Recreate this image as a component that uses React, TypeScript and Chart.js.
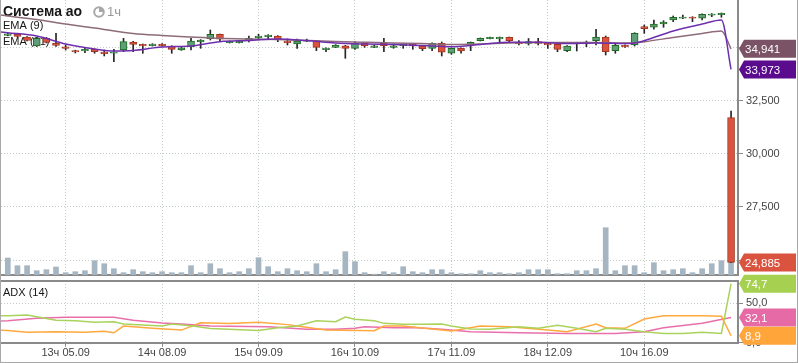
import React, { useEffect, useRef } from 'react';
import { Chart, registerables } from 'chart.js';

Chart.register(...registerables);

// ---------- data ----------
const TITLE = 'Система ао';
const TIMEFRAME = '1ч';
const DAYS = ['04.09', '05.09', '08.09', '09.09', '10.09', '11.09', '12.09', '15.09', '16.09', '17.09'];
const HOURS = [10, 11, 12, 13, 14, 15, 16, 17, 18];
const CATEGORIES = DAYS.flatMap((d) => HOURS.map((h) => `${h}ч ${d}`)).slice(6, 82);
const TICK_INDEX = [6, 16, 26, 36, 46, 56, 66];
const PRICE_TICKS = [25000, 27500, 30000, 32500, 35000];
const ADX_TICKS = [0, 50];

const OPEN = [
  35570, 35640, 35499, 35075, 35438, 35202, 35042, 34863, 34840, 34920,
  34793, 34732, 34887, 35264, 35155, 35089, 35169, 35075, 34887, 35042,
  35264, 35419, 35626, 35231, 35231, 35325, 35466, 35513, 35546, 35311,
  35169, 35297, 35325, 34901, 35014, 35089, 34967, 35231, 35014, 35202,
  35014, 35089, 35169, 35075, 34967, 35202, 34732, 34967, 35155, 35325,
  35419, 35405, 35485, 35264, 35202, 35278, 35202, 35155, 34854, 35169,
  35169, 35325, 35499, 34854, 35108, 35122, 35984, 35956, 36111, 36299,
  36380, 36441, 36380, 36521, 36549, 31700,
];
const HIGH = [
  35670, 35660, 35520, 35460, 35455, 35673, 35122, 34880, 34995, 34935,
  34887, 34920, 35438, 35290, 35170, 35185, 35185, 35090, 35010, 35438,
  35375, 35829, 35640, 35310, 35310, 35546, 35626, 35610, 35565, 35405,
  35405, 35400, 35340, 34995, 35140, 35105, 35278, 35250, 35105, 35438,
  35169, 35185, 35185, 35090, 35220, 35264, 34985, 34985, 35265, 35455,
  35500, 35500, 35500, 35325, 35428, 35438, 35220, 35250, 35090, 35250,
  35311, 35862, 35546, 35202, 35125, 35700, 36064, 36299, 36266, 36488,
  36535, 36455, 36585, 36600, 36630, 32015,
];
const LOW = [
  35555, 35505, 35310, 35050, 35220, 35052, 34887, 34746, 34760, 34732,
  34605, 34336, 34807, 34807, 34732, 35070, 35060, 34732, 34870, 34887,
  34967, 35358, 35278, 35215, 35215, 35264, 35358, 35391, 35278, 35122,
  34967, 35280, 34854, 34807, 35000, 34496, 34920, 35014, 35000, 34807,
  34967, 34967, 34920, 34854, 34854, 34605, 34685, 34732, 34854, 35310,
  35405, 35264, 35264, 35122, 35122, 35122, 34967, 34807, 34807, 34840,
  35042, 35122, 34652, 34732, 35010, 35075, 35673, 35862, 35956, 36220,
  36365, 36219, 36299, 36455, 36427, 24880,
];
const CLOSE = [
  35650, 35523, 35334, 35438, 35240, 35099, 34958, 34793, 34920, 34807,
  34713, 34793, 35278, 35146, 35075, 35169, 35075, 34920, 34995, 35311,
  35358, 35626, 35391, 35297, 35297, 35438, 35546, 35593, 35358, 35231,
  35311, 35358, 35014, 34981, 35122, 34967, 35202, 35075, 35089, 35075,
  35089, 35169, 35075, 34948, 35202, 34779, 34967, 34840, 35250, 35438,
  35485, 35485, 35325, 35184, 35278, 35202, 35122, 34920, 35075, 35231,
  35264, 35499, 34807, 35108, 35028, 35673, 35890, 36111, 36205, 36427,
  36441, 36380, 36568, 36582, 36615, 24885,
];
const VOLUME = [
  170, 93, 93, 43, 53, 80, 23, 33, 43, 143,
  113, 63, 23, 53, 33, 23, 33, 23, 23, 93,
  23, 113, 63, 23, 33, 63, 173, 83, 33, 63,
  43, 33, 113, 33, 53, 233, 133, 23, 8, 33,
  23, 83, 33, 23, 53, 53, 23, 13, 13, 43,
  23, 23, 13, 23, 53, 53, 53, 13, 13, 43,
  43, 63, 473, 43, 93, 93, 23, 123, 43, 53,
  63, 23, 63, 113, 143, 140,
];

// [candle index, value] — lines begin at the left edge of the plot (index -0.7)
const EMA9: [number, number][] = [
  [-0.7, 35734], [0, 35701], [3, 35546], [6, 35169], [9, 34934], [11, 34840], [13, 34863], [16, 35028],
  [19, 35075], [22, 35278], [25, 35334], [28, 35405], [31, 35334], [34, 35217], [37, 35169],
  [40, 35146], [43, 35099], [46, 35042], [49, 35146], [52, 35250], [55, 35250], [58, 35193],
  [61, 35217], [64, 35193], [65, 35217], [66, 35325], [69, 35782], [72, 36111], [74, 36299],
  [75, 33973],
];
const EMA21: [number, number][] = [
  [-0.7, 36535], [0, 36488], [3, 36323], [6, 36111], [9, 35923], [13, 35664], [16, 35570], [19, 35499],
  [22, 35438], [25, 35405], [28, 35381], [31, 35334], [34, 35287], [37, 35250], [40, 35217],
  [43, 35193], [46, 35146], [49, 35169], [52, 35217], [55, 35240], [58, 35240], [61, 35240],
  [64, 35217], [65, 35231], [66, 35278], [69, 35475], [72, 35664], [74, 35782], [75, 34941],
];
const ADX: [number, number][] = [
  [-0.7, 27.6], [0, 27.9], [3, 31], [6, 32.2], [11, 32.2], [13, 28.5], [16, 25], [18, 23.7], [21, 21.2],
  [27, 20.3], [31, 17], [34, 17], [36, 18.5], [37, 20.3], [40, 19], [42, 19.5], [45, 17],
  [48, 14], [53, 12.7], [58, 11.9], [63, 11.9], [66, 14], [68, 19], [72, 24.6], [75, 32.1],
];
const MINUS_DI: [number, number][] = [
  [-0.7, 34.3], [0, 34.3], [2, 35.2], [5, 28.5], [7, 28], [9, 25.9], [11, 26.7], [12, 23.7], [16, 21.2],
  [17, 23.7], [19, 21.5], [21, 18], [26, 15.7], [28, 19], [30, 21.2], [32, 27.9], [34, 26.7],
  [35, 32.6], [36, 29.7], [38, 27.9], [39, 24.6], [41, 23.4], [43, 23.4], [45, 23.7], [46, 21.2],
  [48, 17.4], [50, 17], [53, 20.3], [55, 18.3], [57, 22.1], [59, 18.3], [61, 14], [62, 18.3],
  [64, 17], [66, 14], [68, 11.9], [70, 11.9], [72, 13.2], [74, 11.9], [75, 74.7],
];
const PLUS_DI: [number, number][] = [
  [-0.7, 15.9], [0, 15.7], [2, 13.2], [5, 14], [8, 13.2], [10, 14.5], [11, 12.7], [12, 21.2], [15, 18.5],
  [18, 16.1], [20, 25.4], [23, 24.5], [26, 25.9], [29, 23], [30, 21.2], [33, 16.1], [38, 15.2],
  [39, 21.2], [41, 21.2], [44, 17.4], [46, 14.8], [49, 21.2], [52, 20.3], [56, 16.1], [58, 14],
  [61, 23.7], [62, 19], [64, 18.3], [66, 30.1], [68, 34.3], [72, 34.3], [74, 33.5], [75, 8.9],
];

// ---------- styles ----------
const FONT = '"Liberation Sans", Arial, Helvetica, sans-serif';
const GRID = '#c3ccc3';
const AXIS = '#8a8a8a';
const TEXT = '#444444';
const UP_FILL = '#5e9e79';
const UP_LINE = '#1d6b1d';
const DOWN_FILL = '#d9533f';
const DOWN_LINE = '#a3361e';
const WICK = '#262626';
const VOL_C = '#a5b5c2';
const EMA9_C = '#6e2fae';
const EMA21_C = '#8d6b7a';
const ADX_C = '#e96fab';
const PDI_C = '#ffa93f';
const MDI_C = '#a9d35b';

const X_MIN = -0.705;
const X_MAX = 75.72;
const PRICE_MIN = 24294;
const PRICE_MAX = 37241;
const VOL_MAX = 2750;
const ADX_MAX = 78.2;

const pts = (arr: [number, number][]) => arr.map(([x, y]) => ({ x, y }));
const fmtPrice = (v: number) => Number(v).toLocaleString('en-US');
const fmtAdx = (v: number) => Number(v).toFixed(1).replace('.', ',');

function drawTag(ctx: CanvasRenderingContext2D, y: number, text: string, bg: string) {
  const left = 739;
  const tip = 5;
  const right = 796;
  const h = 18;
  ctx.save();
  ctx.fillStyle = bg;
  ctx.beginPath();
  ctx.moveTo(left, y);
  ctx.lineTo(left + tip, y - h / 2);
  ctx.lineTo(right, y - h / 2);
  ctx.lineTo(right, y + h / 2);
  ctx.lineTo(left + tip, y + h / 2);
  ctx.closePath();
  ctx.fill();
  ctx.fillStyle = '#ffffff';
  ctx.font = `11.5px ${FONT}`;
  ctx.textBaseline = 'middle';
  ctx.textAlign = 'left';
  ctx.fillText(text, left + 6, y + 1);
  ctx.restore();
}

const xScale = (labels: boolean) => ({
  type: 'linear',
  position: 'bottom',
  min: X_MIN,
  max: X_MAX,
  bounds: 'data',
  offset: false,
  afterBuildTicks: (s: any) => {
    s.ticks = TICK_INDEX.map((v) => ({ value: v }));
  },
  afterFit: (s: any) => {
    s.paddingLeft = 0;
    s.paddingRight = 0;
  },
  grid: {
    display: true,
    offset: false,
    color: GRID,
    lineWidth: 1,
    drawTicks: labels,
    tickLength: 4,
    tickColor: AXIS,
    tickWidth: 1,
  },
  border: { display: true, color: AXIS, width: 2, dash: [1, 2] },
  ticks: {
    display: labels,
    autoSkip: false,
    maxRotation: 0,
    minRotation: 0,
    padding: 0,
    color: TEXT,
    font: { family: FONT, size: 11 },
    callback: (v: any) => CATEGORIES[v] ?? '',
  },
});

const yRight = (min: number, max: number, ticks: number[], fmt: (v: number) => string) => ({
  type: 'linear',
  position: 'right',
  min,
  max,
  afterBuildTicks: (s: any) => {
    s.ticks = ticks.map((v) => ({ value: v }));
  },
  afterFit: (s: any) => {
    s.width = 60;
    s.paddingTop = 0;
    s.paddingBottom = 0;
  },
  grid: { color: GRID, lineWidth: 1, drawTicks: true, tickLength: 5, tickColor: AXIS, tickWidth: 1 },
  border: { display: true, color: AXIS, width: 2, dash: [1, 2] },
  ticks: { padding: 3, color: TEXT, font: { family: FONT, size: 11 }, callback: (v: any) => fmt(v) },
});

export default function App() {
  const mainRef = useRef<HTMLCanvasElement>(null);
  const adxRef = useRef<HTMLCanvasElement>(null);

  useEffect(() => {
    document.body.style.margin = '0';
    const idx = OPEN.map((_, i) => i);
    const up = idx.map((i) => CLOSE[i] >= OPEN[i]);

    const mainDeco = {
      id: 'mainDeco',
      beforeDatasetsDraw(chart: any) {
        const ctx = chart.ctx as CanvasRenderingContext2D;
        ctx.save();
        ctx.textAlign = 'left';
        ctx.textBaseline = 'alphabetic';
        ctx.fillStyle = '#161616';
        ctx.font = `bold 14px ${FONT}`;
        ctx.fillText(TITLE, 3, 16);
        // clock icon
        ctx.strokeStyle = '#a8a8a8';
        ctx.lineWidth = 2;
        ctx.beginPath();
        ctx.arc(99, 12, 4.8, 0, Math.PI * 2);
        ctx.stroke();
        ctx.fillStyle = '#a8a8a8';
        ctx.beginPath();
        ctx.moveTo(99, 12);
        ctx.arc(99, 12, 4.8, -Math.PI / 2, 0);
        ctx.closePath();
        ctx.fill();
        ctx.fillStyle = '#9a9a9a';
        ctx.font = `13px ${FONT}`;
        ctx.fillText(TIMEFRAME, 107, 16);
        ctx.fillStyle = '#161616';
        ctx.font = `11px ${FONT}`;
        ctx.fillText('EMA (9)', 3, 29);
        ctx.fillText('EMA (21)', 3, 45);
        ctx.restore();
      },
      afterDraw(chart: any) {
        const ctx = chart.ctx as CanvasRenderingContext2D;
        const y = chart.scales.y;
        const e21 = EMA21[EMA21.length - 1][1];
        const e9 = EMA9[EMA9.length - 1][1];
        const c = CLOSE[CLOSE.length - 1];
        drawTag(ctx, y.getPixelForValue(e21), fmtPrice(e21), '#7b5366');
        drawTag(ctx, y.getPixelForValue(e9), fmtPrice(e9), '#5a0b8e');
        drawTag(ctx, y.getPixelForValue(c), fmtPrice(c), '#d9533f');
      },
    };

    const main = new Chart(mainRef.current as HTMLCanvasElement, {
      type: 'bar',
      data: {
        datasets: [
          {
            type: 'line',
            label: 'EMA (9)',
            data: pts(EMA9),
            yAxisID: 'y',
            borderColor: EMA9_C,
            borderWidth: 1.5,
            pointRadius: 0,
            cubicInterpolationMode: 'monotone',
            order: 0,
          },
          {
            type: 'line',
            label: 'EMA (21)',
            data: pts(EMA21),
            yAxisID: 'y',
            borderColor: EMA21_C,
            borderWidth: 1.5,
            pointRadius: 0,
            cubicInterpolationMode: 'monotone',
            order: 0,
          },
          {
            type: 'bar',
            label: 'body',
            data: idx.map((i) => ({ x: i, y: [OPEN[i], CLOSE[i]] })),
            yAxisID: 'y',
            backgroundColor: up.map((u) => (u ? UP_FILL : DOWN_FILL)),
            borderColor: up.map((u) => (u ? UP_LINE : DOWN_LINE)),
            borderWidth: 1,
            borderSkipped: false,
            barThickness: 7,
            grouped: false,
            order: 1,
          },
          {
            type: 'bar',
            label: 'wick',
            data: idx.map((i) => ({ x: i, y: [LOW[i], HIGH[i]] })),
            yAxisID: 'y',
            backgroundColor: WICK,
            borderWidth: 0,
            barThickness: 1,
            grouped: false,
            order: 2,
          },
          {
            type: 'bar',
            label: 'volume',
            data: idx.map((i) => ({ x: i, y: VOLUME[i] })),
            yAxisID: 'yv',
            backgroundColor: VOL_C,
            borderWidth: 0,
            barThickness: 5,
            grouped: false,
            order: 3,
          },
        ],
      } as any,
      options: {
        responsive: false,
        animation: false,
        events: [],
        layout: { padding: { left: 1, right: 0, top: 0, bottom: 3 } },
        plugins: { legend: { display: false }, tooltip: { enabled: false } },
        scales: {
          x: xScale(false),
          y: yRight(PRICE_MIN, PRICE_MAX, PRICE_TICKS, fmtPrice),
          yv: { type: 'linear', display: false, min: 0, max: VOL_MAX },
        },
      } as any,
      plugins: [mainDeco],
    });

    const adxDeco = {
      id: 'adxDeco',
      beforeDatasetsDraw(chart: any) {
        const ctx = chart.ctx as CanvasRenderingContext2D;
        ctx.save();
        ctx.fillStyle = '#161616';
        ctx.font = `11px ${FONT}`;
        ctx.textAlign = 'left';
        ctx.textBaseline = 'alphabetic';
        ctx.fillText('ADX (14)', 3, 28);
        ctx.restore();
      },
      afterDraw(chart: any) {
        const ctx = chart.ctx as CanvasRenderingContext2D;
        const a = chart.chartArea;
        ctx.save();
        ctx.strokeStyle = AXIS;
        ctx.lineWidth = 2;
        ctx.beginPath();
        ctx.moveTo(a.left, a.top);
        ctx.lineTo(a.right, a.top);
        ctx.stroke();
        ctx.restore();
        const y = chart.scales.y;
        const m = MINUS_DI[MINUS_DI.length - 1][1];
        const d = ADX[ADX.length - 1][1];
        const p = PLUS_DI[PLUS_DI.length - 1][1];
        drawTag(ctx, y.getPixelForValue(m), fmtAdx(m), '#a6d150');
        drawTag(ctx, y.getPixelForValue(d), fmtAdx(d), '#e66aa6');
        drawTag(ctx, y.getPixelForValue(p), fmtAdx(p), '#ffa53a');
      },
    };

    const line = (label: string, arr: [number, number][], color: string) => ({
      type: 'line',
      label,
      data: pts(arr),
      borderColor: color,
      borderWidth: 1.5,
      pointRadius: 0,
      tension: 0,
    });

    const adx = new Chart(adxRef.current as HTMLCanvasElement, {
      type: 'line',
      data: {
        datasets: [
          line('-DI', MINUS_DI, MDI_C),
          line('+DI', PLUS_DI, PDI_C),
          line('ADX', ADX, ADX_C),
        ],
      } as any,
      options: {
        responsive: false,
        animation: false,
        events: [],
        layout: { padding: { left: 1, right: 0, top: 13, bottom: 3 } },
        plugins: { legend: { display: false }, tooltip: { enabled: false } },
        scales: {
          x: xScale(true),
          y: yRight(0, ADX_MAX, ADX_TICKS, fmtAdx),
        },
      } as any,
      plugins: [adxDeco],
    });

    return () => {
      main.destroy();
      adx.destroy();
    };
  }, []);

  return (
    <div style={{ position: 'absolute', left: 0, top: 0, width: 798, height: 363, background: '#ffffff', overflow: 'hidden' }}>
      <canvas ref={mainRef} width={798} height={278} style={{ position: 'absolute', left: 0, top: 0, display: 'block' }} />
      <canvas ref={adxRef} width={798} height={95} style={{ position: 'absolute', left: 0, top: 268, display: 'block' }} />
      <div
        style={{
          position: 'absolute',
          left: 0,
          top: 0,
          width: 798,
          height: 363,
          boxSizing: 'border-box',
          borderLeft: '1px solid #a8a8a8',
          borderRight: '1px solid #a8a8a8',
          borderBottom: '1px solid #a8a8a8',
          pointerEvents: 'none',
        }}
      />
    </div>
  );
}
